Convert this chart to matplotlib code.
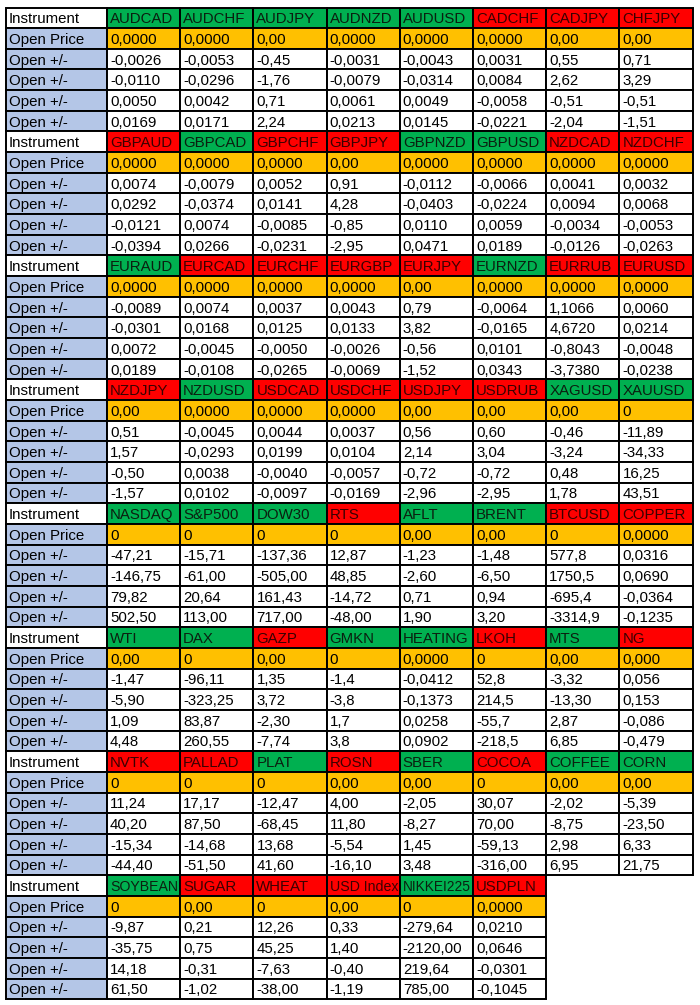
import matplotlib
matplotlib.use('Agg')
import matplotlib.pyplot as plt
from matplotlib.patches import Rectangle

plt.rcParams['font.family'] = ['Liberation Sans', 'DejaVu Sans']

# one list per block of the sheet
instruments = [
    ['AUDCAD', 'AUDCHF', 'AUDJPY', 'AUDNZD', 'AUDUSD', 'CADCHF', 'CADJPY', 'CHFJPY'],
    ['GBPAUD', 'GBPCAD', 'GBPCHF', 'GBPJPY', 'GBPNZD', 'GBPUSD', 'NZDCAD', 'NZDCHF'],
    ['EURAUD', 'EURCAD', 'EURCHF', 'EURGBP', 'EURJPY', 'EURNZD', 'EURRUB', 'EURUSD'],
    ['NZDJPY', 'NZDUSD', 'USDCAD', 'USDCHF', 'USDJPY', 'USDRUB', 'XAGUSD', 'XAUUSD'],
    ['NASDAQ', 'S&P500', 'DOW30', 'RTS', 'AFLT', 'BRENT', 'BTCUSD', 'COPPER'],
    ['WTI', 'DAX', 'GAZP', 'GMKN', 'HEATING', 'LKOH', 'MTS', 'NG'],
    ['NVTK', 'PALLAD', 'PLAT', 'ROSN', 'SBER', 'COCOA', 'COFFEE', 'CORN'],
    ['SOYBEAN', 'SUGAR', 'WHEAT', 'USD Index', 'NIKKEI225', 'USDPLN'],
]
# G = green header, R = red header
trend = ['GGGGGRRR', 'RGRRGGRR', 'GRRRRGRR', 'RGRRRRGG',
         'GGGRGGRR', 'GGRGGRGR', 'RRGRGRGG', 'GRRRGR']

open_price = [
    ['0,0000', '0,0000', '0,00', '0,0000', '0,0000', '0,0000', '0,00', '0,00'],
    ['0,0000', '0,0000', '0,0000', '0,00', '0,0000', '0,0000', '0,0000', '0,0000'],
    ['0,0000', '0,0000', '0,0000', '0,0000', '0,00', '0,0000', '0,0000', '0,0000'],
    ['0,00', '0,0000', '0,0000', '0,0000', '0,00', '0,00', '0,00', '0'],
    ['0', '0', '0', '0', '0,00', '0,00', '0', '0,0000'],
    ['0,00', '0', '0,00', '0', '0,0000', '0', '0,00', '0,000'],
    ['0', '0', '0', '0,00', '0,00', '0', '0,00', '0,00'],
    ['0', '0,00', '0', '0,00', '0', '0,0000'],
]
move1 = [
    ['-0,0026', '-0,0053', '-0,45', '-0,0031', '-0,0043', '0,0031', '0,55', '0,71'],
    ['0,0074', '-0,0079', '0,0052', '0,91', '-0,0112', '-0,0066', '0,0041', '0,0032'],
    ['-0,0089', '0,0074', '0,0037', '0,0043', '0,79', '-0,0064', '1,1066', '0,0060'],
    ['0,51', '-0,0045', '0,0044', '0,0037', '0,56', '0,60', '-0,46', '-11,89'],
    ['-47,21', '-15,71', '-137,36', '12,87', '-1,23', '-1,48', '577,8', '0,0316'],
    ['-1,47', '-96,11', '1,35', '-1,4', '-0,0412', '52,8', '-3,32', '0,056'],
    ['11,24', '17,17', '-12,47', '4,00', '-2,05', '30,07', '-2,02', '-5,39'],
    ['-9,87', '0,21', '12,26', '0,33', '-279,64', '0,0210'],
]
move2 = [
    ['-0,0110', '-0,0296', '-1,76', '-0,0079', '-0,0314', '0,0084', '2,62', '3,29'],
    ['0,0292', '-0,0374', '0,0141', '4,28', '-0,0403', '-0,0224', '0,0094', '0,0068'],
    ['-0,0301', '0,0168', '0,0125', '0,0133', '3,82', '-0,0165', '4,6720', '0,0214'],
    ['1,57', '-0,0293', '0,0199', '0,0104', '2,14', '3,04', '-3,24', '-34,33'],
    ['-146,75', '-61,00', '-505,00', '48,85', '-2,60', '-6,50', '1750,5', '0,0690'],
    ['-5,90', '-323,25', '3,72', '-3,8', '-0,1373', '214,5', '-13,30', '0,153'],
    ['40,20', '87,50', '-68,45', '11,80', '-8,27', '70,00', '-8,75', '-23,50'],
    ['-35,75', '0,75', '45,25', '1,40', '-2120,00', '0,0646'],
]
move3 = [
    ['0,0050', '0,0042', '0,71', '0,0061', '0,0049', '-0,0058', '-0,51', '-0,51'],
    ['-0,0121', '0,0074', '-0,0085', '-0,85', '0,0110', '0,0059', '-0,0034', '-0,0053'],
    ['0,0072', '-0,0045', '-0,0050', '-0,0026', '-0,56', '0,0101', '-0,8043', '-0,0048'],
    ['-0,50', '0,0038', '-0,0040', '-0,0057', '-0,72', '-0,72', '0,48', '16,25'],
    ['79,82', '20,64', '161,43', '-14,72', '0,71', '0,94', '-695,4', '-0,0364'],
    ['1,09', '83,87', '-2,30', '1,7', '0,0258', '-55,7', '2,87', '-0,086'],
    ['-15,34', '-14,68', '13,68', '-5,54', '1,45', '-59,13', '2,98', '6,33'],
    ['14,18', '-0,31', '-7,63', '-0,40', '219,64', '-0,0301'],
]
move4 = [
    ['0,0169', '0,0171', '2,24', '0,0213', '0,0145', '-0,0221', '-2,04', '-1,51'],
    ['-0,0394', '0,0266', '-0,0231', '-2,95', '0,0471', '0,0189', '-0,0126', '-0,0263'],
    ['0,0189', '-0,0108', '-0,0265', '-0,0069', '-1,52', '0,0343', '-3,7380', '-0,0238'],
    ['-1,57', '0,0102', '-0,0097', '-0,0169', '-2,96', '-2,95', '1,78', '43,51'],
    ['502,50', '113,00', '717,00', '-48,00', '1,90', '3,20', '-3314,9', '-0,1235'],
    ['4,48', '260,55', '-7,74', '3,8', '0,0902', '-218,5', '6,85', '-0,479'],
    ['-44,40', '-51,50', '41,60', '-16,10', '3,48', '-316,00', '6,95', '21,75'],
    ['61,50', '-1,02', '-38,00', '-1,19', '785,00', '-0,1045'],
]

fill = {'G': '#00b050', 'R': '#ff0000'}
ink = {'G': '#0b1f10', 'R': '#3a0000'}
blue = '#b4c6e7'
orange = '#ffc000'

W, H = 700, 1005
fig = plt.figure(figsize=(W / 100, H / 100), dpi=100)
ax = fig.add_axes([0, 0, 1, 1])
ax.set_xlim(0, W)
ax.set_ylim(H, 0)
ax.axis('off')

x0, y0 = 6, 7.5
lab_w, col_w, row_h = 101, 73.2, 20.66
fs = 10.8
renderer = fig.canvas.get_renderer()


def cell(x, y, w, text, face, color='black', fit=False):
    ax.add_patch(Rectangle((x, y), w, row_h, facecolor=face,
                           edgecolor='black', lw=1.4, zorder=1))
    t = ax.text(x + 3, y + 15.8, text, ha='left', va='baseline',
                fontsize=fs, color=color, zorder=3)
    if fit:
        # shrink long names so they stay inside the cell, like the sheet does
        wpx = t.get_window_extent(renderer).width
        if wpx > w - 5:
            t.set_fontsize(fs * (w - 5) / wpx)
    return t


labels = ['Instrument', 'Open Price'] + ['Open +/-'] * 4
label_faces = ['white', blue] + [blue] * 4
moves = [move1, move2, move3, move4]

for b in range(len(instruments)):
    top = y0 + b * 6 * row_h
    for r in range(6):
        cell(x0, top + r * row_h, lab_w, labels[r], label_faces[r])
    for c, name in enumerate(instruments[b]):
        x = x0 + lab_w + c * col_w
        cell(x, top, col_w, name, fill[trend[b][c]], ink[trend[b][c]], fit=True)
        cell(x, top + row_h, col_w, open_price[b][c], orange)
        for r, mv in enumerate(moves):
            cell(x, top + (r + 2) * row_h, col_w, mv[b][c], 'white')

fig.savefig('out.png', dpi=100, facecolor='white')
